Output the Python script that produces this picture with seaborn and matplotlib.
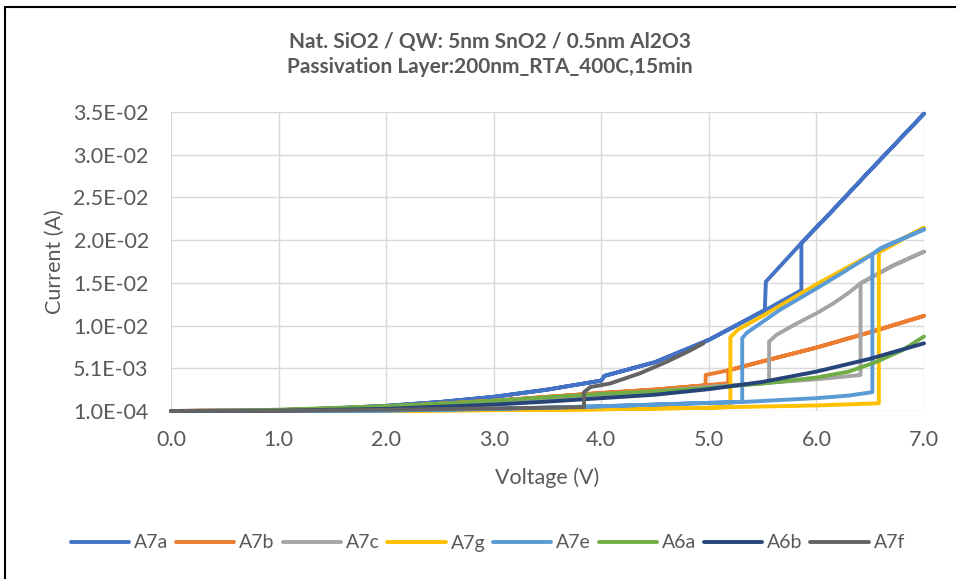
import numpy as np
import pandas as pd
import matplotlib
matplotlib.use("Agg")
import matplotlib.pyplot as plt
from matplotlib.lines import Line2D
from matplotlib.ticker import FuncFormatter
import seaborn as sns

# I-V sweeps: each path runs 0 V -> 7 V and back, current in A.
a7a_v = [0, 0.5, 1.0, 1.5, 2.0, 2.5, 3.0, 3.5, 4.0, 4.03, 4.5, 5.0, 5.3, 5.52, 5.53, 5.86, 6.15, 6.47, 6.75, 7.0,
         6.75, 6.47, 6.15, 5.86, 5.86, 5.53, 5.3, 5.0, 4.5, 4.03, 4.0, 3.5, 3.0, 2.5, 2.0, 1.5, 1.0, 0.5, 0]
a7a_i = [1.0e-4, 1.2e-4, 2.0e-4, 4.0e-4, 7.0e-4, 1.15e-3, 1.75e-3, 2.6e-3, 3.65e-3, 4.2e-3, 5.8e-3, 8.4e-3, 1.04e-2,
         1.19e-2, 1.52e-2, 1.97e-2, 2.35e-2, 2.78e-2, 3.15e-2, 3.48e-2,
         3.15e-2, 2.78e-2, 2.35e-2, 1.97e-2, 1.42e-2, 1.19e-2, 1.04e-2, 8.4e-3, 5.8e-3, 4.2e-3, 3.65e-3, 2.6e-3,
         1.75e-3, 1.15e-3, 7.0e-4, 4.0e-4, 2.0e-4, 1.2e-4, 1.0e-4]

a7b_v = [0, 1.0, 2.0, 3.0, 4.0, 4.5, 4.97, 4.97, 5.2, 5.5, 6.0, 6.5, 7.0,
         6.5, 6.0, 5.5, 5.18, 5.18, 4.97, 4.5, 4.0, 3.0, 2.0, 1.0, 0]
a7b_i = [1.0e-4, 2.0e-4, 6.0e-4, 1.3e-3, 2.2e-3, 2.6e-3, 3.1e-3, 4.3e-3, 4.9e-3, 5.9e-3, 7.5e-3, 9.3e-3, 1.12e-2,
         9.3e-3, 7.5e-3, 5.9e-3, 4.85e-3, 3.35e-3, 3.1e-3, 2.6e-3, 2.2e-3, 1.3e-3, 6.0e-4, 2.0e-4, 1.0e-4]

a7c_v = [0, 1.0, 2.0, 3.0, 4.0, 5.0, 5.56, 6.0, 6.41, 6.41, 6.7, 7.0,
         6.7, 6.41, 6.3, 6.15, 6.0, 5.8, 5.63, 5.56, 5.56, 5.0, 4.0, 3.0, 2.0, 1.0, 0]
a7c_i = [1.0e-4, 2.0e-4, 5.0e-4, 1.0e-3, 1.8e-3, 2.9e-3, 3.4e-3, 3.8e-3, 4.3e-3, 1.5e-2, 1.7e-2, 1.87e-2,
         1.7e-2, 1.5e-2, 1.39e-2, 1.26e-2, 1.15e-2, 1.02e-2, 9.0e-3, 8.2e-3, 3.4e-3, 2.9e-3, 1.8e-3, 1.0e-3,
         5.0e-4, 2.0e-4, 1.0e-4]

a7g_v = [0, 1.0, 2.0, 3.0, 4.0, 5.0, 5.2, 6.0, 6.58, 6.58, 7.0,
         6.5, 6.0, 5.5, 5.27, 5.2, 5.2, 5.0, 4.0, 3.0, 2.0, 1.0, 0]
a7g_i = [1.0e-4, 1.0e-4, 1.3e-4, 2.0e-4, 3.0e-4, 4.8e-4, 5.5e-4, 7.5e-4, 1.0e-3, 1.86e-2, 2.15e-2,
         1.83e-2, 1.49e-2, 1.12e-2, 9.6e-3, 8.7e-3, 5.7e-4, 4.8e-4, 3.0e-4, 2.0e-4, 1.3e-4, 1.0e-4, 1.0e-4]

a7e_v = [0, 1.0, 2.0, 3.0, 4.0, 4.5, 5.0, 5.31, 5.66, 6.0, 6.3, 6.52, 6.52, 6.6, 7.0,
         6.6, 6.52, 6.25, 6.0, 5.66, 5.35, 5.31, 5.31, 5.0, 4.5, 4.0, 3.0, 2.0, 1.0, 0]
a7e_i = [1.0e-4, 1.0e-4, 1.6e-4, 3.5e-4, 6.5e-4, 8.5e-4, 1.05e-3, 1.15e-3, 1.38e-3, 1.6e-3, 1.9e-3, 2.3e-3,
         1.84e-2, 1.91e-2, 2.13e-2,
         1.91e-2, 1.84e-2, 1.63e-2, 1.44e-2, 1.19e-2, 9.2e-3, 8.6e-3, 1.15e-3, 1.05e-3, 8.5e-4, 6.5e-4, 3.5e-4,
         1.6e-4, 1.0e-4, 1.0e-4]

a6a_v = [0, 0.5, 1.0, 1.5, 2.0, 2.5, 3.0, 3.5, 4.0, 4.5, 5.0, 5.5, 6.0, 6.3, 6.55, 6.8, 7.0]
a6a_i = [1.0e-4, 1.2e-4, 2.5e-4, 4.5e-4, 6.8e-4, 9.5e-4, 1.3e-3, 1.7e-3, 2.1e-3, 2.4e-3, 2.8e-3, 3.3e-3,
         4.0e-3, 4.7e-3, 5.8e-3, 7.2e-3, 8.8e-3]

a6b_v = [0, 1.0, 2.0, 3.0, 3.5, 4.0, 4.5, 5.0, 5.5, 6.0, 6.5, 7.0]
a6b_i = [1.0e-4, 1.3e-4, 3.5e-4, 8.5e-4, 1.2e-3, 1.6e-3, 2.0e-3, 2.65e-3, 3.5e-3, 4.7e-3, 6.2e-3, 8.0e-3]

a7f_v = [0, 1.0, 2.0, 3.0, 3.5, 3.84, 3.84, 3.9, 4.08, 4.36, 4.6, 4.8, 4.95]
a7f_i = [1.0e-4, 1.2e-4, 2.5e-4, 4.0e-4, 4.8e-4, 5.5e-4, 2.3e-3, 2.9e-3, 3.3e-3, 4.5e-3, 5.8e-3, 7.0e-3, 8.0e-3]

devices = ["A7a", "A7b", "A7c", "A7g", "A7e", "A6a", "A6b", "A7f"]
colors = ["#4472C4", "#ED7D31", "#A5A5A5", "#FFC000", "#5B9BD5", "#70AD47", "#264478", "#636363"]
volt_paths = [a7a_v, a7b_v, a7c_v, a7g_v, a7e_v, a6a_v, a6b_v, a7f_v]
curr_paths = [a7a_i, a7b_i, a7c_i, a7g_i, a7e_i, a6a_i, a6b_i, a7f_i]

df = pd.concat(
    [pd.DataFrame({"Voltage": v, "Current": i, "Device": name})
     for name, v, i in zip(devices, volt_paths, curr_paths)],
    ignore_index=True,
)

sns.set_theme(style="white")
plt.rcParams["font.family"] = ["Lato", "DejaVu Sans"]
text_color = "#595959"

W, H = 956, 579
fig = plt.figure(figsize=(W / 100, H / 100), dpi=100)
left, right, top, bottom = 171, 924, 112, 411
ax = fig.add_axes([left / W, 1 - bottom / H, (right - left) / W, (bottom - top) / H])

sns.lineplot(data=df, x="Voltage", y="Current", hue="Device", hue_order=devices, palette=colors,
             sort=False, estimator=None, legend=False, ax=ax, linewidth=2.8,
             solid_joinstyle="round", solid_capstyle="round", clip_on=False)

ax.set_xlim(0, 7)
ax.set_ylim(1e-4, 3.5e-2)
ax.set_xticks(np.arange(0, 8, 1.0))
ax.set_yticks(np.linspace(1e-4, 3.5e-2, 8))
ax.xaxis.set_major_formatter(FuncFormatter(lambda v, _: f"{v:.1f}"))
ax.yaxis.set_major_formatter(FuncFormatter(lambda v, _: f"{v:.1E}"))
ax.grid(True, color="#D9D9D9", linewidth=1.0)
ax.set_axisbelow(True)
for s in ax.spines.values():
    s.set_visible(False)
ax.tick_params(axis="both", length=0, labelsize=15.5, labelcolor=text_color)
ax.tick_params(axis="y", pad=16)
ax.tick_params(axis="x", pad=14)

ax.set_xlabel("Voltage (V)", fontsize=15.5, color=text_color, va="center")
ax.xaxis.set_label_coords(0.5, (bottom - 478) / (bottom - top))
ax.set_ylabel("Current (A)", fontsize=15.5, color=text_color, va="center")
ax.yaxis.set_label_coords((55 - left) / (right - left), 0.5)

fig.text(490 / W, 1 - 42 / H, "Nat. SiO2 / QW: 5nm SnO2 / 0.5nm Al2O3", ha="center", va="center",
         fontsize=15, fontweight="bold", color=text_color)
fig.text(490 / W, 1 - 67 / H, "Passivation Layer:200nm_RTA_400C,15min", ha="center", va="center",
         fontsize=15, fontweight="bold", color=text_color)

handles = [Line2D([], [], color=c, linewidth=2.8, solid_capstyle="round") for c in colors]
fig.legend(handles, devices, loc="center", bbox_to_anchor=(488 / W, 1 - 543 / H), ncol=8, frameon=False,
           fontsize=14, labelcolor=text_color, handlelength=3.0, handletextpad=0.25, columnspacing=0.4)

# chart border
fig.add_artist(Line2D([5 / W, 5 / W], [0, 1 - 7 / H], transform=fig.transFigure, color="black", linewidth=1.5))
fig.add_artist(Line2D([5 / W, 1], [1 - 7 / H, 1 - 7 / H], transform=fig.transFigure, color="black", linewidth=1.5))

fig.savefig("out.png", dpi=100)
